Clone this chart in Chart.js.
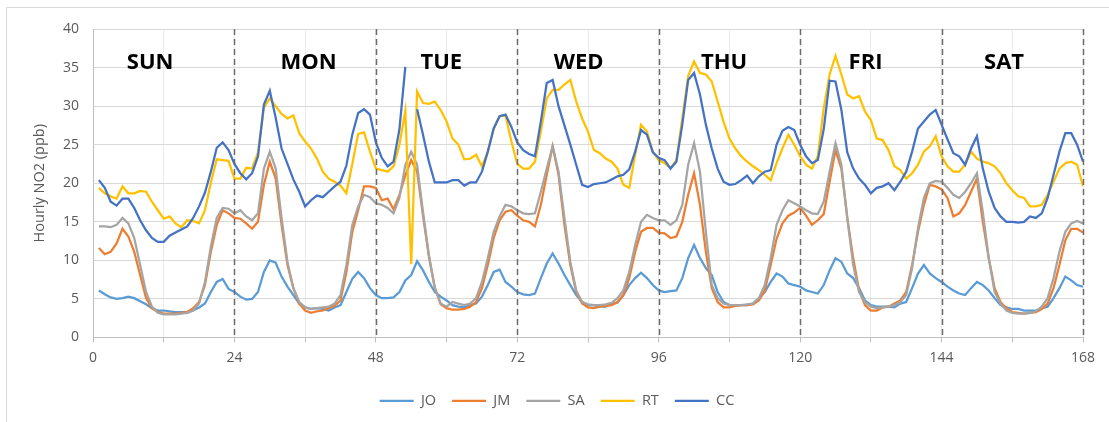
<!DOCTYPE html>
<html>
<head>
<meta charset="utf-8">
<script src="https://cdn.jsdelivr.net/npm/chart.js@4"></script>
<style>
  html, body { margin: 0; padding: 0; background: #fff; }
  canvas { display: block; }
</style>
</head>
<body>
<canvas id="no2-chart" width="1109" height="422"></canvas>
<script>
// hour of week, 1..168
const hours = Array.from({ length: 168 }, (_, i) => i + 1);

const seriesNames = ['JO', 'JM', 'SA', 'RT', 'CC'];
const seriesColors = ['#5B9BD5', '#ED7D31', '#A5A5A5', '#FFC000', '#4472C4'];

const dayNames = ['SUN', 'MON', 'TUE', 'WED', 'THU', 'FRI', 'SAT'];
const dayLabelHour = [9.7, 36.6, 59.1, 82.4, 107.1, 131.1, 154.6];
const dayLabelValue = 35.6;
const dayBreaks = [24, 48, 72, 96, 120, 144, 168];

const JO = [
	6.1, 5.6, 5.2, 5.0, 5.1, 5.3, 5.1, 4.7, 4.3, 3.8, 3.5, 3.5, 3.4, 3.3, 3.3, 3.3, 3.5, 3.9, 4.4, 5.9, 7.2, 7.6, 6.3, 5.9,
	5.3, 4.9, 5.0, 5.9, 8.5, 10.0, 9.7, 7.9, 6.6, 5.5, 4.4, 3.9, 3.7, 3.8, 3.7, 3.5, 3.9, 4.2, 5.9, 7.6, 8.5, 7.7, 6.4, 5.5,
	5.1, 5.1, 5.2, 5.9, 7.4, 8.1, 9.9, 8.7, 7.2, 5.9, 5.3, 4.8, 4.2, 4.0, 3.9, 4.2, 4.4, 5.3, 6.8, 8.5, 8.8, 7.2, 6.6, 5.9,
	5.6, 5.5, 5.7, 7.7, 9.6, 10.9, 9.6, 8.1, 6.8, 5.5, 4.6, 4.2, 4.2, 4.0, 4.0, 4.4, 4.5, 5.5, 6.8, 7.7, 8.4, 7.7, 6.8, 6.1,
	5.9, 6.0, 6.1, 7.7, 10.3, 12.0, 10.3, 9.0, 8.1, 5.9, 4.6, 4.2, 4.2, 4.2, 4.2, 4.4, 5.1, 5.9, 7.2, 8.3, 7.9, 7.0, 6.8, 6.6,
	6.1, 5.9, 5.7, 6.8, 8.7, 10.3, 9.8, 8.3, 7.7, 6.4, 4.8, 4.2, 4.0, 4.0, 4.0, 3.9, 4.4, 4.6, 6.4, 8.3, 9.4, 8.3, 7.7, 7.2,
	6.6, 6.1, 5.7, 5.5, 6.4, 7.2, 6.8, 6.1, 5.1, 4.2, 3.9, 3.7, 3.7, 3.5, 3.5, 3.5, 3.8, 4.0, 5.1, 6.4, 7.9, 7.4, 6.8, 6.6
];

const JM = [
	11.6, 10.8, 11.1, 12.2, 14.1, 13.1, 11.1, 8.1, 5.1, 3.8, 3.3, 3.1, 3.1, 3.1, 3.2, 3.3, 3.8, 4.6, 6.8, 11.1, 14.6, 16.5, 16.1, 15.5,
	15.4, 14.8, 14.1, 15.0, 19.8, 22.8, 20.6, 14.6, 9.4, 6.4, 4.4, 3.5, 3.2, 3.4, 3.5, 3.8, 4.1, 4.8, 8.5, 13.7, 16.5, 19.6, 19.6, 19.4,
	17.8, 18.0, 16.6, 18.5, 21.0, 23.0, 21.5, 15.8, 10.5, 6.5, 4.3, 3.8, 3.6, 3.6, 3.7, 4.0, 4.6, 6.4, 9.4, 12.9, 15.2, 16.3, 16.5, 15.8,
	15.2, 15.0, 14.4, 17.2, 21.1, 24.8, 21.1, 14.6, 9.4, 5.9, 4.4, 3.9, 3.8, 4.0, 4.1, 4.2, 4.6, 5.5, 7.7, 11.1, 13.7, 14.2, 14.2, 13.6,
	13.5, 12.9, 13.1, 15.0, 18.5, 21.3, 17.2, 11.1, 6.4, 4.6, 3.9, 3.9, 4.1, 4.2, 4.2, 4.3, 4.8, 6.1, 9.4, 12.8, 14.8, 15.8, 16.2, 16.8,
	15.8, 14.6, 15.2, 16.0, 20.2, 24.3, 21.9, 15.5, 10.3, 6.1, 4.2, 3.5, 3.5, 3.9, 4.0, 4.4, 4.8, 5.9, 9.4, 13.7, 17.2, 19.8, 19.6, 19.2,
	18.1, 15.7, 16.1, 17.2, 18.9, 20.6, 15.0, 10.3, 6.4, 4.6, 3.8, 3.3, 3.2, 3.1, 3.2, 3.3, 3.7, 4.4, 6.4, 9.4, 12.6, 14.1, 14.1, 13.6
];

const SA = [
	14.4, 14.4, 14.3, 14.6, 15.5, 14.8, 12.9, 9.4, 5.9, 4.0, 3.2, 3.0, 3.0, 3.0, 3.1, 3.2, 3.5, 4.4, 7.2, 11.8, 15.5, 16.8, 16.7, 16.1,
	16.5, 15.7, 15.2, 16.1, 21.9, 24.1, 21.9, 15.5, 9.8, 6.4, 4.6, 3.9, 3.7, 3.8, 3.9, 4.0, 4.4, 5.5, 9.4, 14.6, 17.0, 18.5, 18.2, 17.4,
	17.2, 16.8, 16.1, 18.1, 22.4, 24.1, 22.4, 16.3, 10.7, 6.4, 4.4, 4.0, 4.6, 4.4, 4.2, 4.4, 5.1, 7.2, 10.3, 13.7, 15.7, 17.2, 17.0, 16.5,
	16.1, 16.0, 16.1, 18.9, 21.9, 24.8, 21.5, 15.5, 9.8, 6.1, 4.6, 4.3, 4.2, 4.2, 4.3, 4.5, 5.1, 6.1, 8.5, 12.0, 15.0, 15.9, 15.5, 15.2,
	15.2, 14.6, 15.2, 17.2, 22.4, 25.2, 21.5, 13.7, 6.8, 5.1, 4.4, 4.2, 4.2, 4.2, 4.3, 4.4, 5.1, 6.8, 10.3, 14.6, 16.5, 17.8, 17.4, 17.0,
	16.5, 16.1, 16.0, 17.6, 21.5, 25.2, 22.4, 15.5, 9.4, 5.9, 4.6, 4.0, 3.8, 3.9, 4.0, 4.2, 4.6, 5.5, 9.0, 14.2, 18.1, 20.0, 20.3, 20.2,
	19.4, 18.5, 18.1, 18.9, 20.0, 21.3, 16.3, 10.3, 5.9, 4.4, 3.5, 3.2, 3.1, 3.1, 3.2, 3.4, 4.0, 5.1, 7.7, 11.1, 13.7, 14.8, 15.1, 14.8
];

const RT = [
	19.4, 18.7, 18.3, 18.0, 19.6, 18.7, 18.7, 19.0, 18.9, 17.6, 16.5, 15.4, 15.7, 14.8, 14.3, 15.2, 15.1, 14.8, 16.5, 20.1, 23.1, 23.0, 22.9, 20.6,
	20.6, 22.0, 21.9, 24.0, 29.8, 31.0, 30.0, 29.0, 28.4, 28.8, 26.5, 25.4, 24.5, 23.2, 21.5, 20.6, 20.2, 19.7, 18.7, 22.5, 26.4, 26.6, 24.1, 21.9,
	21.7, 21.5, 22.2, 25.0, 29.4, 9.5, 31.9, 30.4, 30.3, 30.6, 29.5, 28.0, 25.8, 25.0, 23.1, 23.2, 23.7, 22.2, 24.1, 27.1, 28.7, 28.8, 25.4, 22.5,
	21.9, 21.9, 22.8, 26.7, 31.0, 32.1, 32.1, 32.8, 33.4, 30.6, 28.4, 26.7, 24.3, 23.9, 23.2, 22.8, 21.9, 19.8, 19.4, 23.7, 27.6, 26.7, 24.1, 23.0,
	22.6, 22.0, 23.0, 28.4, 33.9, 35.8, 34.3, 34.1, 33.2, 30.6, 28.0, 25.8, 24.5, 23.5, 22.8, 22.2, 21.7, 21.1, 20.4, 22.6, 24.5, 26.3, 25.0, 23.5,
	22.4, 21.9, 23.5, 29.7, 34.1, 36.5, 34.1, 31.5, 31.0, 31.3, 29.3, 28.2, 25.8, 25.6, 24.3, 22.2, 21.7, 20.6, 21.3, 22.4, 24.1, 24.8, 26.1, 23.5,
	22.2, 21.5, 21.5, 22.4, 24.1, 23.2, 22.8, 22.6, 22.2, 21.3, 20.0, 19.1, 18.3, 18.1, 17.0, 17.0, 17.2, 18.5, 20.2, 21.9, 22.6, 22.8, 22.4, 19.6
];

// hour 54 is missing for CC (gap in the line)
const CC = [
	20.4, 19.4, 17.6, 17.1, 18.0, 18.0, 16.8, 15.2, 13.9, 12.9, 12.4, 12.4, 13.2, 13.6, 14.0, 14.4, 15.5, 17.0, 18.8, 21.5, 24.6, 25.3, 24.3, 22.5,
	21.3, 20.5, 21.3, 23.5, 30.2, 32.0, 28.5, 24.5, 22.5, 20.5, 18.9, 17.0, 17.8, 18.4, 18.2, 18.9, 19.6, 20.2, 22.3, 26.3, 29.1, 29.6, 28.9, 25.3,
	23.3, 22.2, 22.8, 27.0, 35.1, null, 29.6, 26.3, 22.8, 20.1, 20.1, 20.1, 20.4, 20.4, 19.7, 20.1, 20.1, 21.5, 24.1, 27.1, 28.7, 28.9, 27.3, 25.3,
	24.3, 23.8, 23.5, 28.0, 33.0, 33.4, 30.0, 27.5, 25.0, 22.4, 19.8, 19.5, 19.9, 20.0, 20.1, 20.5, 20.9, 21.1, 21.8, 24.1, 26.9, 26.3, 24.0, 23.3,
	23.0, 21.9, 22.8, 27.6, 33.4, 34.3, 31.5, 27.6, 24.5, 21.9, 20.2, 19.8, 19.9, 20.4, 21.0, 20.0, 20.9, 21.5, 21.7, 25.0, 26.8, 27.3, 26.9, 25.0,
	23.5, 22.6, 23.0, 27.0, 33.3, 33.2, 29.5, 24.0, 21.9, 20.6, 19.8, 18.7, 19.4, 19.6, 20.0, 19.1, 20.2, 21.5, 24.1, 27.1, 28.0, 28.9, 29.5, 27.6,
	25.7, 23.9, 23.5, 22.4, 24.5, 26.1, 21.9, 18.9, 16.8, 15.7, 15.0, 15.0, 14.9, 15.0, 15.7, 15.5, 16.1, 18.1, 21.1, 24.1, 26.5, 26.5, 25.0, 22.8
];

const seriesValues = [JO, JM, SA, RT, CC];

const labelFont = '"Open Sans", "Liberation Sans", sans-serif';
const labelColor = '#595959';

// white background + thin frame round the chart
const framePlugin = {
	id: 'frame',
	beforeDraw(chart) {
		const ctx = chart.ctx;
		ctx.save();
		ctx.fillStyle = '#ffffff';
		ctx.fillRect(0, 0, chart.width, chart.height);
		ctx.strokeStyle = '#d9d9d9';
		ctx.lineWidth = 1;
		ctx.beginPath();
		ctx.moveTo(6.5, chart.height);
		ctx.lineTo(6.5, 7.5);
		ctx.lineTo(chart.width, 7.5);
		ctx.stroke();
		ctx.restore();
	}
};

// dashed day separators and day names
const daysPlugin = {
	id: 'days',
	afterDatasetsDraw(chart) {
		const ctx = chart.ctx;
		const xs = chart.scales.x;
		const ys = chart.scales.y;
		const area = chart.chartArea;
		ctx.save();
		ctx.strokeStyle = '#6b6b6b';
		ctx.lineWidth = 1.5;
		ctx.setLineDash([6, 4]);
		dayBreaks.forEach(h => {
			const x = Math.round(xs.getPixelForValue(h)) + 0.5;
			ctx.beginPath();
			ctx.moveTo(x, area.top);
			ctx.lineTo(x, area.bottom);
			ctx.stroke();
		});
		ctx.setLineDash([]);
		ctx.fillStyle = '#000000';
		ctx.font = 'bold 22px ' + labelFont;
		ctx.textAlign = 'center';
		ctx.textBaseline = 'middle';
		dayNames.forEach((name, i) => {
			ctx.fillText(name, xs.getPixelForValue(dayLabelHour[i]), ys.getPixelForValue(dayLabelValue));
		});
		ctx.restore();
	}
};

const datasets = seriesNames.map((name, i) => ({
	label: name,
	data: hours.map((h, j) => ({ x: h, y: seriesValues[i][j] })),
	borderColor: seriesColors[i],
	backgroundColor: seriesColors[i],
	borderWidth: 2.25,
	pointRadius: 0,
	tension: 0,
	spanGaps: false,
	order: seriesNames.length - i
}));

new Chart(document.getElementById('no2-chart').getContext('2d'), {
	type: 'line',
	data: { datasets: datasets },
	plugins: [framePlugin, daysPlugin],
	options: {
		responsive: false,
		animation: false,
		layout: { padding: { left: 31, right: 26, top: 29, bottom: 4 } },
		scales: {
			x: {
				type: 'linear',
				min: 0,
				max: 168,
				afterFit: scale => { scale.height = 40; },
				ticks: {
					stepSize: 12,
					autoSkip: false,
					maxRotation: 0,
					padding: 7,
					color: labelColor,
					font: { family: labelFont, size: 14 },
					callback: v => (v % 24 === 0 ? v : '')
				},
				grid: { color: '#ebebeb', tickColor: '#bfbfbf', tickLength: 5 },
				border: { color: '#bfbfbf' }
			},
			y: {
				min: 0,
				max: 40,
				afterFit: scale => { scale.width = 62; },
				ticks: {
					stepSize: 5,
					padding: 14,
					color: labelColor,
					font: { family: labelFont, size: 14 }
				},
				grid: { color: '#d9d9d9', drawTicks: false },
				border: { color: '#bfbfbf' },
				title: {
					display: true,
					text: 'Hourly NO2 (ppb)',
					color: labelColor,
					font: { family: labelFont, size: 14.5 },
					padding: { top: 0, bottom: 2 }
				}
			}
		},
		plugins: {
			legend: {
				position: 'bottom',
				labels: {
					usePointStyle: true,
					pointStyle: 'line',
					pointStyleWidth: 34,
					boxHeight: 14,
					padding: 16,
					color: labelColor,
					font: { family: labelFont, size: 14.5 },
					sort: (a, b) => a.datasetIndex - b.datasetIndex
				}
			},
			tooltip: { enabled: false }
		}
	}
});
</script>
</body>
</html>
